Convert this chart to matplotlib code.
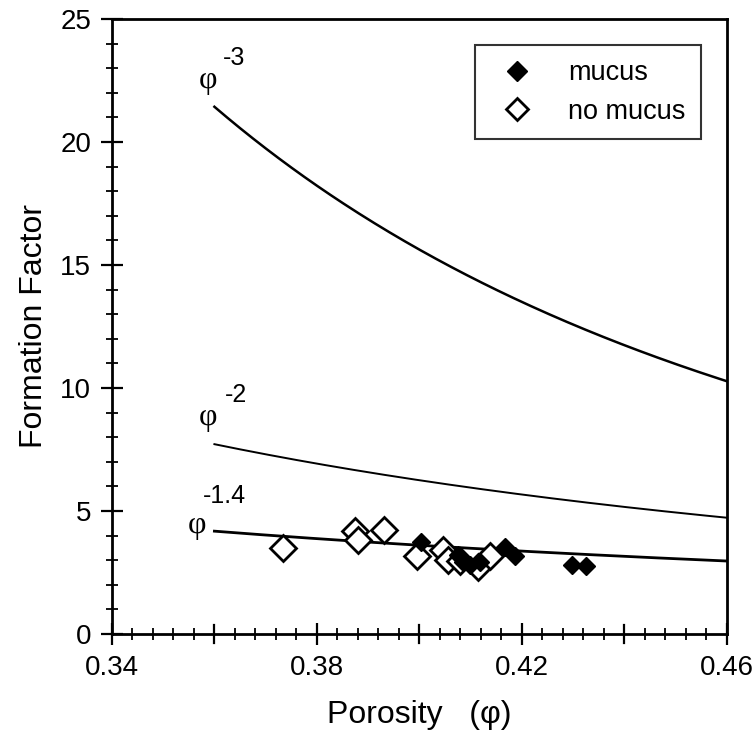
import numpy as np
import matplotlib.pyplot as plt
from matplotlib.ticker import MultipleLocator

plt.rcParams['font.family'] = ['Liberation Sans', 'DejaVu Sans']

# measured points
mucus_phi = [0.4004, 0.4076, 0.4085, 0.4098, 0.4118, 0.4167, 0.4186, 0.4297, 0.4325]
mucus_F = [3.72, 3.22, 2.94, 2.81, 2.94, 3.55, 3.15, 2.81, 2.77]

nomucus_phi = [0.3734, 0.3874, 0.3881, 0.3931, 0.3995, 0.4046, 0.4056, 0.4079, 0.4115, 0.4138]
nomucus_F = [3.49, 4.17, 3.83, 4.23, 3.15, 3.42, 3.01, 2.95, 2.72, 3.15]

# Archie-type curves F = phi^m
exponents = [-3, -2, -1.4]
exp_labels = ['-3', '-2', '-1.4']
curve_widths = [1.8, 1.4, 2.0]
phi_range = (0.36, 0.46)


def main():
    fig = plt.figure(figsize=(7.56, 7.55), dpi=100)
    ax = fig.add_axes([0.148, 0.1603, 0.8136, 0.8145])

    phi = np.linspace(phi_range[0], phi_range[1], 200)
    for m, lw in zip(exponents, curve_widths):
        ax.plot(phi, phi ** m, color='black', lw=lw, zorder=2)

    ax.plot(nomucus_phi, nomucus_F, linestyle='none', marker='D', ms=13.5,
            mfc='white', mec='black', mew=2.0, label='no mucus', zorder=3)
    ax.plot(mucus_phi, mucus_F, linestyle='none', marker='D', ms=9,
            mfc='black', mec='black', mew=1.0, label='mucus', zorder=4)

    # curve labels
    phi_pos = [(0.3587, 22.5), (0.3587, 8.8), (0.3566, 4.4)]
    sup_pos = [(0.3638, 23.4), (0.3642, 9.7), (0.3620, 5.6)]
    for (x1, y1), (x2, y2), lab in zip(phi_pos, sup_pos, exp_labels):
        ax.text(x1, y1, '\u03c6', fontsize=23, family='Liberation Serif',
                ha='center', va='center')
        ax.text(x2, y2, lab, fontsize=18, ha='center', va='center')

    ax.set_xlim(0.34, 0.46)
    ax.set_ylim(0, 25)
    ax.set_xticks([0.34, 0.38, 0.42, 0.46])
    ax.set_xticklabels(['0.34', '0.38', '0.42', '0.46'])
    ax.xaxis.set_minor_locator(MultipleLocator(0.004))
    ax.yaxis.set_major_locator(MultipleLocator(5))
    ax.yaxis.set_minor_locator(MultipleLocator(1))
    # unlabeled major ticks at 0.36, 0.40, 0.44
    for xv in [0.36, 0.40, 0.44]:
        ax.plot([xv, xv], [-0.35, 0.35], color='black', lw=1.6, clip_on=False, zorder=5)

    ax.tick_params(which='major', direction='inout', length=16, width=1.6,
                   labelsize=20, pad=7)
    ax.tick_params(which='minor', direction='inout', length=8, width=1.3)
    ax.tick_params(axis='x', which='both', top=False)
    ax.tick_params(axis='y', which='both', right=False)
    for s in ax.spines.values():
        s.set_linewidth(2.0)

    ax.set_xlabel('Porosity   (\u03c6)', fontsize=23, labelpad=14)
    ax.set_ylabel('Formation Factor', fontsize=23, labelpad=8)

    handles, labels = ax.get_legend_handles_labels()
    leg = ax.legend(handles[::-1], labels[::-1], loc='upper right',
                    bbox_to_anchor=(0.957, 0.957), fontsize=19.5, frameon=True,
                    fancybox=False, edgecolor='black', handlelength=2.0,
                    handletextpad=0.9, borderpad=0.55, labelspacing=0.45,
                    borderaxespad=0)
    leg.get_frame().set_linewidth(1.5)
    leg.legend_handles[0].set_markersize(10)
    leg.legend_handles[1].set_markersize(11)

    fig.savefig('out.png', dpi=100)


if __name__ == "__main__":
    main()
